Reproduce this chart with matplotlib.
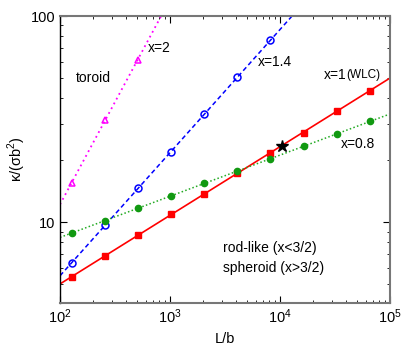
import numpy as np
import matplotlib
matplotlib.use("Agg")
import matplotlib.pyplot as plt

plt.rcParams['font.family'] = ['Liberation Sans', 'DejaVu Sans']
plt.rcParams['mathtext.fontset'] = 'custom'
plt.rcParams['mathtext.rm'] = 'Liberation Sans'

# chain length L/b
L = [128, 256, 512, 1024, 2048, 4096, 8192, 16384, 32768, 65536]

# kappa/(sigma b^2) for each exponent x
k_x1 = [5.43, 6.84, 8.65, 10.9, 13.7, 17.3, 21.7, 27.2, 34.6, 43.4]   # x=1 (WLC)
k_x08 = [8.88, 10.15, 11.65, 13.4, 15.4, 17.7, 20.3, 23.4, 26.7, 30.8]  # x=0.8
L_x14 = [128, 256, 512, 1024, 2048, 4096, 8192]
k_x14 = [6.35, 9.64, 14.6, 22.0, 33.3, 50.4, 76.4]                     # x=1.4
L_x2 = [128, 256, 512]
k_x2 = [15.5, 31.3, 61.5]                                               # x=2

star_L = 10350
star_k = 23.4

def fitline(xs, ys):
    p = np.polyfit(np.log10(xs), np.log10(ys), 1)
    xx = np.logspace(2, 5, 200)
    return xx, 10 ** np.polyval(p, np.log10(xx))

fig = plt.figure(figsize=(4.15, 3.48), dpi=100)
ax = fig.add_axes([60/415, 45/348, 330/415, 287/348])

xx, yy = fitline(L_x2, k_x2)
ax.plot(xx, yy, color='magenta', ls=(0, (1, 2)), lw=1.3)
ax.plot(L_x2, k_x2, ls='none', marker='^', mfc='none', mec='magenta', ms=5, mew=1.1)

xx, yy = fitline(L_x14, k_x14)
ax.plot(xx, yy, color='blue', ls=(0, (3, 2)), lw=1.1)
ax.plot(L_x14, k_x14, ls='none', marker='o', mfc='none', mec='blue', ms=5, mew=1.1)

xx, yy = fitline(L, k_x1)
ax.plot(xx, yy, color='red', ls='-', lw=1.2)
ax.plot(L, k_x1, ls='none', marker='s', color='red', ms=4.5)

xx, yy = fitline(L, k_x08)
ax.plot(xx, yy, color='#22aa22', ls=(0, (1, 1.5)), lw=1.1)
ax.plot(L, k_x08, ls='none', marker='o', color='#119911', ms=4.5)

ax.plot([star_L], [star_k], ls='none', marker='*', color='black', ms=9)

ax.set_xscale('log')
ax.set_yscale('log')
ax.set_xlim(100, 1e5)
ax.set_ylim(4.05, 100)
ax.set_yticks([10, 100])
ax.set_yticklabels(['10', '100'])
ax.tick_params(which='both', direction='in', top=True, right=True, labelsize=10.5)
ax.tick_params(which='major', length=5)
ax.tick_params(which='minor', length=2.5)
for s in ax.spines.values():
    s.set_color('#777777')
    s.set_linewidth(1.5)
ax.spines['left'].set_color('black')
ax.spines['left'].set_linewidth(1)

ax.set_xlabel('L/b', fontsize=10.5)
ax.set_ylabel('κ/(σb$^2$)', fontsize=10.5, labelpad=2)

fs = 10
ax.text(630, 70, 'x=2', fontsize=fs, ha='left', va='center')
ax.text(140, 50, 'toroid', fontsize=fs, ha='left', va='center')
ax.text(6300, 59.8, 'x=1.4', fontsize=fs, ha='left', va='center')
ax.text(24800, 51.8, 'x=1', fontsize=fs, ha='left', va='center')
ax.text(40400, 51.8, '(WLC)', fontsize=8.5, ha='left', va='center')
ax.text(35600, 23.9, 'x=0.8', fontsize=fs, ha='left', va='center')
ax.text(3010, 7.45, 'rod-like (x<3/2)', fontsize=fs, ha='left', va='center')
ax.text(3010, 5.96, 'spheroid (x>3/2)', fontsize=fs, ha='left', va='center')

fig.savefig('out.png', dpi=100)
